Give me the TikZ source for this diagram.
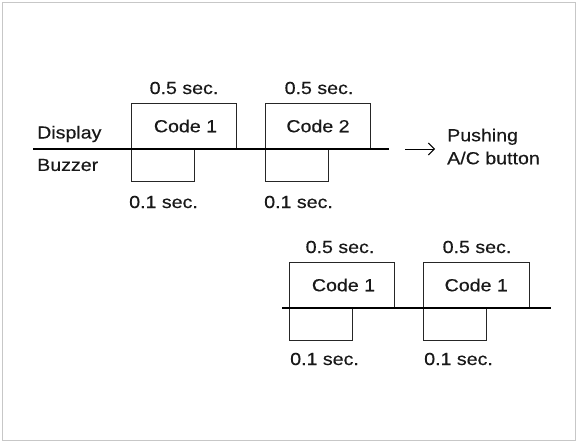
\documentclass[tikz,border=0pt]{standalone}
\usepackage{fontspec}
\setmainfont{Liberation Sans}[FakeStretch=1.12,FakeBold=0.4]
\usetikzlibrary{arrows.meta}
\begin{document}
\begin{tikzpicture}[x=1pt,y=-1pt,
  every node/.style={font=\fontsize{17.5}{23}\selectfont, inner sep=0pt, text=black!90},
  dbox/.style={draw=black!85, line width=1pt, anchor=south west, minimum width=105pt, minimum height=45pt},
  bbox/.style={draw=black!85, line width=1pt, anchor=north west, minimum width=63pt, minimum height=32pt},
  axis/.style={draw=black, line width=1.3pt}]
\useasboundingbox (0,0) rectangle (577,442);
\draw[black!22, line width=1pt] (2,2) rectangle (575,440);

% top row
\node[dbox] (d1) at (131,149) {};
\node at (d1.center) [xshift=1.5pt] (c1) {Code 1};
\node[dbox] (d2) at (265,149) {};
\node at (d2.center) (c2) {Code 2};
\node[bbox] (b1) at (131,149) {};
\node[bbox] (b2) at (265,149) {};
\coordinate (a1s) at (33,149);
\coordinate (a1e) at (389,149);
\draw[axis] (a1s) -- (a1e);
\node (t1) at (184,88) {0.5 sec.};
\node (t2) at (319,88) {0.5 sec.};
\node[anchor=west] (s1) at (129,202) {0.1 sec.};
\node[anchor=west] (s2) at (264,202) {0.1 sec.};
\node[anchor=west] (disp) at (37,134) {Display};
\node[anchor=west] (buzz) at (37,165) {Buzzer};
\node[anchor=west, align=left] (push) at (447,146.5) {Pushing\\A/C button};
\coordinate (ar1) at (405,149);
\coordinate (ar2) at (435,149);
\draw[line width=1pt, -{Straight Barb[length=6pt,width=12pt]}] (ar1) -- (ar2);

% bottom row
\node[dbox] (d3) at (289,308) {};
\node at (d3.center) [xshift=1.5pt] (c3) {Code 1};
\node[dbox, minimum width=106.5pt] (d4) at (422.5,308) {};
\node at (d4.center) (c4) {Code 1};
\node[bbox] (b3) at (289,308) {};
\node[bbox] (b4) at (422.5,308) {};
\coordinate (a2s) at (282,308);
\coordinate (a2e) at (551,308);
\draw[axis] (a2s) -- (a2e);
\node (t3) at (340,247) {0.5 sec.};
\node (t4) at (477,247) {0.5 sec.};
\node[anchor=west] (s3) at (290,359) {0.1 sec.};
\node[anchor=west] (s4) at (424,359) {0.1 sec.};
\end{tikzpicture}
\end{document}
